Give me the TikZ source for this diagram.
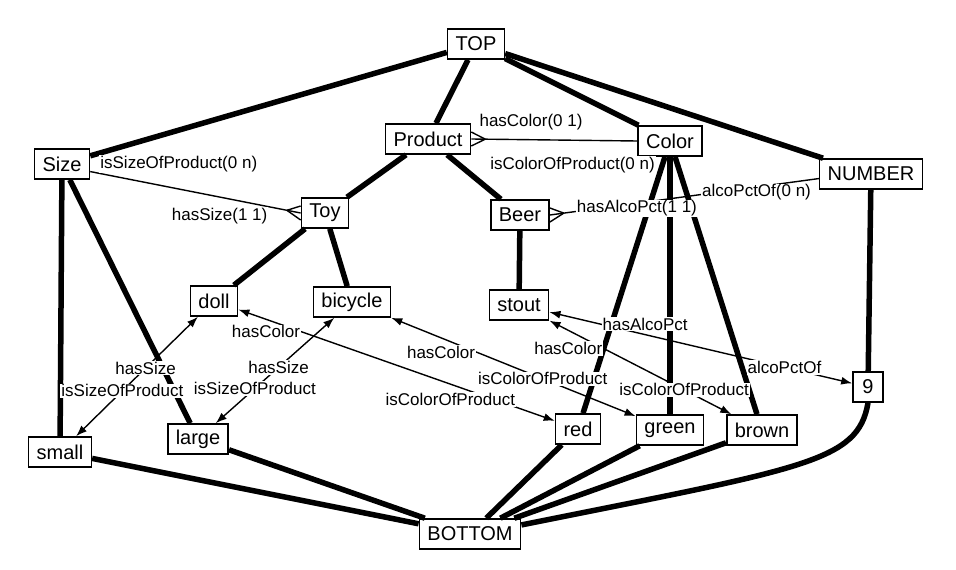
\documentclass[tikz,border=0pt]{standalone}
\usepackage{fontspec}
\setmainfont{Liberation Sans}
\usetikzlibrary{arrows.meta,calc}

\newcommand{\crowsfoot}[2]{%
	\draw[rel] ($(#1)!14pt!(#2)$) -- ($(#1)+(0,7pt)$);
	\draw[rel] ($(#1)!14pt!(#2)$) -- ($(#1)+(0,-7pt)$);
}

\begin{document}
\begin{tikzpicture}[x=1pt,y=-1pt,
	concept/.style={draw,line width=1.6pt,fill=white,font=\fontsize{20}{20}\selectfont,inner xsep=8pt,minimum height=30pt,minimum width=30pt},
	isa/.style={line width=5.5pt},
	rel/.style={line width=1.4pt},
	inst/.style={line width=1.4pt,{Latex[length=11pt,width=8pt]}-{Latex[length=11pt,width=8pt]}},
	lbl/.style={font=\fontsize{17}{17}\selectfont,fill=white,inner sep=1pt}]
	\useasboundingbox (0,0) rectangle (956,570);

	% concepts
	\node[concept] (top) at (476,44) {TOP};
	\node[concept] (product) at (428,139) {Product};
	\node[concept] (color) at (670,141) {Color};
	\node[concept] (size) at (62,164) {Size};
	\node[concept] (number) at (871,174) {NUMBER};
	\node[concept] (toy) at (325,213) {Toy};
	\node[concept] (beer) at (520,215) {Beer};
	% instances
	\node[concept] (doll) at (214,301) {doll};
	\node[concept] (bicycle) at (352,302) {bicycle};
	\node[concept] (stout) at (519,305) {stout};
	\node[concept] (nine) at (868,387) {9};
	\node[concept] (small) at (60,452) {small};
	\node[concept] (large) at (198,439) {large};
	\node[concept] (red) at (578,429) {red};
	\node[concept] (green) at (670,430) {green};
	\node[concept] (brown) at (762,430) {brown};
	\node[concept] (bottom) at (470,534) {BOTTOM};

	% lattice
	\draw[isa] (top) -- (size);
	\draw[isa] (top) -- (product);
	\draw[isa] (top) -- (color);
	\draw[isa] (top) -- (number);
	\draw[isa] (product) -- (toy);
	\draw[isa] (product) -- (beer);
	\draw[isa] (toy) -- (doll);
	\draw[isa] (toy) -- (bicycle);
	\draw[isa] (beer) -- (stout);
	\draw[isa] (size) -- (small);
	\draw[isa] (size) -- (large);
	\draw[isa] (color) -- (red);
	\draw[isa] (color) -- (green);
	\draw[isa] (color) -- (brown);
	\draw[isa] (number) -- (nine);
	\draw[isa] (small) -- (bottom);
	\draw[isa] (large) -- (bottom);
	\draw[isa] (red) -- (bottom);
	\draw[isa] (green) -- (bottom);
	\draw[isa] (brown) -- (bottom);
	\draw[isa] (nine.south) .. controls (858,462) and (805,468) .. (bottom.10);

	% relations
	\draw[rel] (product.east) -- (color.west)
		node[lbl,pos=.36,above=8pt] {hasColor(0 1)}
		node[lbl,pos=.61,below=15pt] {isColorOfProduct(0 n)};
	\crowsfoot{product.east}{color.west}
	\draw[rel] (size.-15) -- (toy.west)
		node[lbl,pos=.04,anchor=south west] {isSizeOfProduct(0 n)}
		node[lbl,pos=.85,anchor=north east] {hasSize(1 1)};
	\crowsfoot{toy.west}{size.-15}
	\draw[rel] (beer.east) -- (number.185)
		node[lbl,pos=.094,anchor=west,yshift=3pt] {hasAlcoPct(1 1)}
		node[lbl,pos=.56,anchor=west,yshift=2pt] {alcoPctOf(0 n)};
	\crowsfoot{beer.east}{number.185}

	% instance links
	\draw[inst] (doll) -- (small)
		node[lbl,pos=.43] {hasSize}
		node[lbl,pos=.62] {isSizeOfProduct};
	\draw[inst] (bicycle) -- (large)
		node[lbl,pos=.47] {hasSize}
		node[lbl,pos=.67] {isSizeOfProduct};
	\draw[inst] (doll) -- (red)
		node[lbl,pos=.2,anchor=east] {hasColor}
		node[lbl,pos=.88,anchor=south east] {isColorOfProduct};
	\draw[inst] (bicycle) -- (green)
		node[lbl,pos=.35,anchor=east] {hasColor}
		node[lbl,pos=.62] {isColorOfProduct};
	\draw[inst] (stout) -- (brown)
		node[lbl,pos=.3,anchor=east] {hasColor}
		node[lbl,pos=.74] {isColorOfProduct};
	\draw[inst] (stout) -- (nine)
		node[lbl,pos=.17,anchor=west] {hasAlcoPct}
		node[lbl,pos=.776] {alcoPctOf};
\end{tikzpicture}
\end{document}
